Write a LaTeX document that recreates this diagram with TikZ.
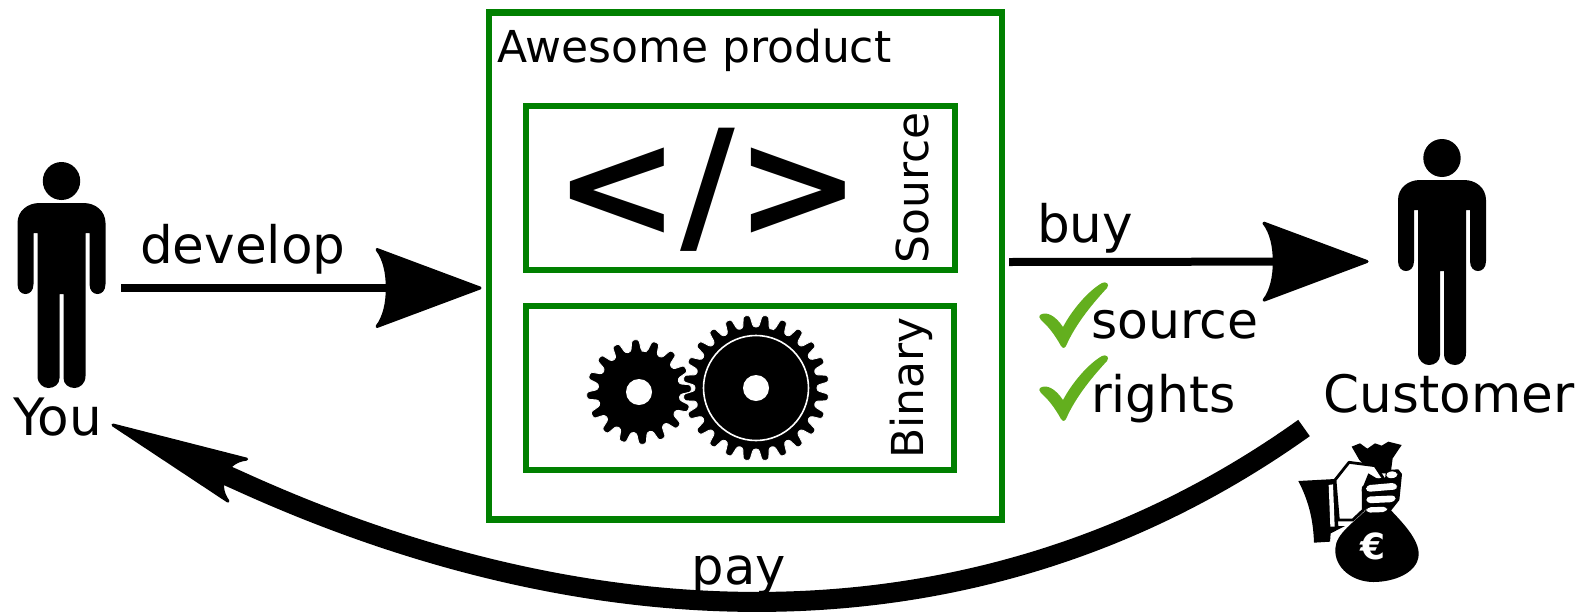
\documentclass[tikz,border=0pt]{standalone}
\usepackage{fontspec}
\setmainfont{DejaVu Sans}
\usetikzlibrary{arrows.meta}
\definecolor{prodgreen}{HTML}{008000}
\definecolor{checkgreen}{HTML}{63AF1E}
\pgfdeclarearrow{
  name = Curvy,
  parameters = {\the\pgfarrowlength,\the\pgfarrowwidth},
  setup code = {
    \pgfarrowssetbackend{0pt}
    \pgfarrowssettipend{\pgfarrowlength}
    \pgfarrowssetlineend{.1\pgfarrowlength}
    \pgfarrowssavethe\pgfarrowlength
    \pgfarrowssavethe\pgfarrowwidth
  },
  drawing code = {
    \pgfsetlinewidth{1.5pt}
    \pgfsetroundjoin
    \pgfpathmoveto{\pgfqpoint{\pgfarrowlength}{0pt}}
    \pgfpathlineto{\pgfqpoint{0pt}{.5\pgfarrowwidth}}
    \pgfpathcurveto{\pgfqpoint{.07\pgfarrowlength}{.38\pgfarrowwidth}}
                   {\pgfqpoint{.1\pgfarrowlength}{.2\pgfarrowwidth}}
                   {\pgfqpoint{.1\pgfarrowlength}{0pt}}
    \pgfpathcurveto{\pgfqpoint{.1\pgfarrowlength}{-.2\pgfarrowwidth}}
                   {\pgfqpoint{.07\pgfarrowlength}{-.38\pgfarrowwidth}}
                   {\pgfqpoint{0pt}{-.5\pgfarrowwidth}}
    \pgfpathclose
    \pgfusepathqfillstroke
  },
  defaults = {length=50pt,width=38pt}
}
\newcommand{\fs}[1]{\fontsize{#1}{#1}\selectfont}
\newcommand{\gearwheel}[4]{% teeth, root, outer, phase
  \pgfmathsetmacro{\gp}{360/#1}
  \filldraw[draw=white,line width=.4pt,fill=black,rounded corners=1.2pt]
    ({#4+.5*\gp}:#2)
    \foreach \i in {1,...,#1}{
      -- ({#4+\i*\gp-.33*\gp}:#2)
      -- ({#4+\i*\gp-.17*\gp}:#3)
      -- ({#4+\i*\gp+.17*\gp}:#3)
      -- ({#4+\i*\gp+.33*\gp}:#2)
    } -- cycle;
}
\tikzset{
  greenbox/.style={draw=prodgreen,inner sep=0pt,outer sep=0pt},
  label/.style={inner sep=0pt,outer sep=0pt,text=black},
  flow/.style={line width=4pt,draw=black},
  check/.style={fill=checkgreen,draw=none},
  person/.pic={
    \fill (0,0) ellipse [x radius=18.7,y radius=19];
    \fill (-44,42) .. controls (-44,30) and (-34,22) .. (-22,22) -- (22,22)
      .. controls (34,22) and (44,30) .. (44,42) -- (44,103)
      .. controls (44,110) and (40,113) .. (36,113)
      .. controls (32,113) and (28,110) .. (28,103) -- (28,52) -- (24,52) -- (24,195)
      .. controls (24,203) and (18,207) .. (13,207)
      .. controls (7,207) and (2,203) .. (2,197) -- (2,113) -- (-2,113) -- (-2,197)
      .. controls (-2,203) and (-7,207) .. (-13,207)
      .. controls (-18,207) and (-24,203) .. (-24,195) -- (-24,52) -- (-28,52) -- (-28,103)
      .. controls (-28,110) and (-32,113) .. (-36,113)
      .. controls (-40,113) and (-44,110) .. (-44,103) -- cycle;
  },
  tick/.pic={
    \fill[check] (1040,315) .. controls (1046,311) and (1055,315) .. (1063,327)
      .. controls (1072,310) and (1088,291) .. (1102,283)
      .. controls (1106,281) and (1110,284) .. (1107,288)
      .. controls (1094,302) and (1076,323) .. (1066,346)
      .. controls (1064,349) and (1062,348) .. (1061,346)
      .. controls (1055,335) and (1048,326) .. (1041,320)
      .. controls (1039,318) and (1039,316) .. (1040,315) -- cycle;
  }
}
\begin{document}
\begin{tikzpicture}[x=.5pt,y=-.5pt]
\useasboundingbox (0,0) rectangle (1585,611);

% product boxes
\node[greenbox,line width=3.2pt,minimum width=256.5pt,minimum height=253.5pt] (product) at (745.5,266) {};
\node[greenbox,line width=2.8pt,minimum width=214.5pt,minimum height=82pt] (sourcebox) at (740.5,188) {};
\node[greenbox,line width=2.8pt,minimum width=214pt,minimum height=82pt] (binarybox) at (740,388) {};

\node[label,anchor=base west,font=\fs{22pt}] (awesome) at (497,62) {Awesome product};
\node[label,anchor=base,rotate=90,font=\fs{22pt}] (sourcelabel) at (928,188) {Source};
\node[label,anchor=base,rotate=90,font=\fs{22pt}] (binarylabel) at (923,388) {Binary};
\node[label,anchor=center,font=\fs{75pt}\bfseries] (code) at (708,190) {</>};

% gears
\begin{scope}[shift={(639,392)}]
  \gearwheel{16}{41}{52.5}{-94}
  \fill[white] (0,0) circle [radius=13];
\end{scope}
\begin{scope}[shift={(756,388)}]
  \gearwheel{24}{61}{73}{-82.5}
  \draw[white,line width=.8pt] (0,0) circle [radius=52.5];
  \fill[white] (0,0) circle [radius=13];
\end{scope}

% people
\pic at (61.5,181) {person};
\pic at (1442,158) {person};
\node[label,anchor=base,font=\fs{25.8pt}] (you) at (57.5,435) {You};
\node[label,anchor=base,font=\fs{25.8pt}] (customer) at (1449,412) {Customer};

% connectors
\coordinate (devstart) at (121,288);
\coordinate (devend) at (480,288);
\coordinate (buystart) at (1009,262);
\coordinate (buyend) at (1367,261.5);
\coordinate (paystart) at (1304,428);
\coordinate (payneck) at (237,480);
\coordinate (payend) at (113,425);
\draw[flow,-{Curvy[length=51.5pt,width=38.5pt]}] (devstart) -- (devend);
\draw[flow,-{Curvy[length=51.5pt,width=38.5pt]}] (buystart) -- (buyend);
\draw[line width=10pt,-{Curvy[length=68pt,width=23pt]}] (paystart) .. controls (1000,645) and (620,655) .. (payneck) -- (payend);

\node[label,anchor=base west,font=\fs{25.8pt}] (develop) at (140,263) {develop};
\node[label,anchor=base west,font=\fs{25.8pt}] (buy) at (1037,242) {buy};
\node[label,anchor=base west,font=\fs{25.2pt}] (source) at (1091,338) {source};
\node[label,anchor=base west,font=\fs{25.2pt}] (rights) at (1091,412) {rights};
\node[label,anchor=base,font=\fs{25.6pt}] (pay) at (739,584) {pay};

% ticks
\pic at (0,0) {tick};
\pic at (0,73) {tick};

% money bag
\begin{scope}[shift={(1260,400)},x=.16667pt,y=-.16667pt]
  % bag body
  \fill (320,328) -- (390,328) .. controls (430,370) and (478,420) .. (476,465)
    .. controls (472,520) and (400,546) .. (340,546)
    .. controls (280,546) and (222,505) .. (226,445)
    .. controls (228,400) and (285,365) .. (320,328) -- cycle;
  % bag top
  \fill (275,140) -- (300,130) -- (322,146) -- (345,130) -- (365,137) -- (385,125) -- (425,135)
    -- (398,175) -- (392,220) -- (340,220) -- (298,180) -- cycle;
  % cuff
  \fill (115,243) -- (225,237) -- (235,378) -- (255,378) -- (212,400) -- (210,425) -- (162,428)
    .. controls (160,370) and (150,310) .. (115,243) -- cycle;
  \fill[white] (206,255) -- (219,253) -- (224,380) -- (211,380) -- cycle;
  % hand
  \filldraw[fill=white,draw=black,line width=1.4pt,line join=round] (225,240) -- (267,187) -- (345,197)
    -- (372,238) -- (345,240) -- (310,262) -- (310,330) -- (278,360) -- (235,360) -- cycle;
  % fingers block
  \fill (325,220) -- (350,235) -- (375,238) -- (378,210) -- (415,208) -- (426,222) -- (422,262)
    -- (418,300) -- (385,342) -- (318,342) -- (305,270) -- cycle;
  \fill[white,rounded corners=2pt] (378,216) -- (410,213) -- (414,232) -- (380,236) -- cycle;
  \fill[white,rounded corners=2pt] (318,256) -- (408,248) -- (414,268) -- (318,276) -- cycle;
  \fill[white,rounded corners=2pt] (318,290) -- (408,286) -- (405,306) -- (320,310) -- cycle;
  \fill[white,rounded corners=2pt] (320,322) -- (382,320) -- (380,336) -- (318,338) -- cycle;
  \node[label,text=white,font=\fs{18pt}\bfseries] (euro) at (340,440) {€};
\end{scope}
\end{tikzpicture}
\end{document}
